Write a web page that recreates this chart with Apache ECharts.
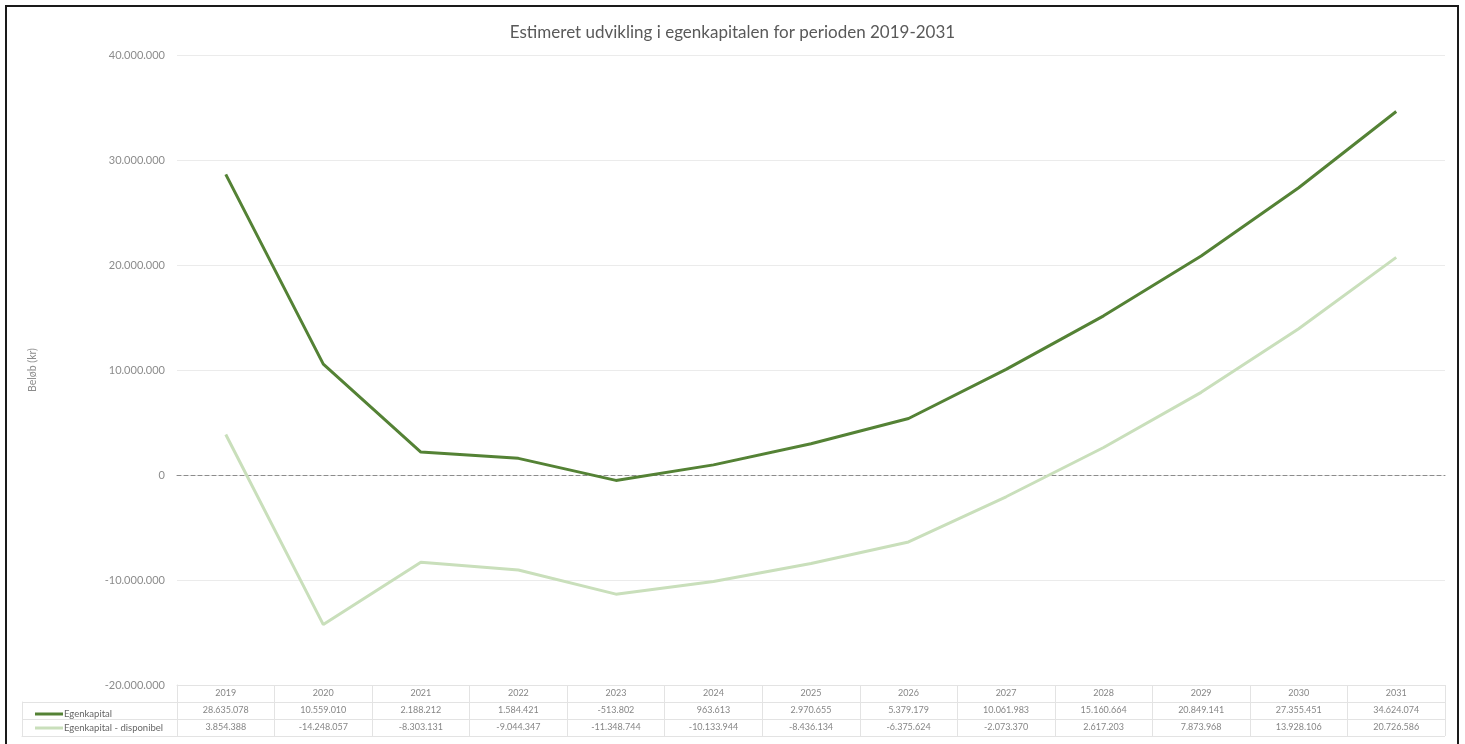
<!DOCTYPE html>
<html>
<head>
<meta charset="utf-8">
<script src="https://cdn.jsdelivr.net/npm/echarts@6/dist/echarts.min.js"></script>
<style>
html,body{margin:0;padding:0;background:#fff;}
#chart{width:1465px;height:744px;}
</style>
</head>
<body>
<div id="chart"></div>
<script>
var years = ['2019','2020','2021','2022','2023','2024','2025','2026','2027','2028','2029','2030','2031'];
var egenkapital = [28635078,10559010,2188212,1584421,-513802,963613,2970655,5379179,10061983,15160664,20849141,27355451,34624074];
var disponibel = [3854388,-14248057,-8303131,-9044347,-11348744,-10133944,-8436134,-6375624,-2073370,2617203,7873968,13928106,20726586];
var seriesNames = ['Egenkapital','Egenkapital - disponibel'];
var yTicks = {min:-20000000, max:40000000, interval:10000000};
var titleText = 'Estimeret udvikling i egenkapitalen for perioden 2019-2031';
var yName = 'Beløb (kr)';

function fmt(v){
  var neg = v < 0;
  var s = String(Math.abs(Math.round(v)));
  var out = '';
  while (s.length > 3){ out = '.' + s.slice(-3) + out; s = s.slice(0, s.length-3); }
  out = s + out;
  return (neg ? '-' : '') + out;
}

var FONT = 'Lato';
var darkGreen = '#548235';
var lightGreen = '#c9dfbb';
var txt = '#595959';
var tableLine = '#e3e3e3';

var chart = echarts.init(document.getElementById('chart'), null, {renderer:'canvas'});

function rowSeries(rowKey, vals, isHeader){
  return {
    type:'scatter', xAxisIndex:1, yAxisIndex:1, symbolSize:0, silent:true,
    data: years.map(function(y,i){ return {value:[y,rowKey], lbl: isHeader ? y : fmt(vals[i])}; }),
    label:{show:true, position:'inside', formatter:function(p){return p.data.lbl;}, color:'#666666', fontSize:9, fontFamily:FONT},
    tooltip:{show:false}
  };
}

var option = {
  animation:false,
  textStyle:{fontFamily:FONT},
  title:{
    text:titleText, left:'center', top:19,
    textStyle:{fontSize:17, fontWeight:'normal', color:txt, fontFamily:FONT}
  },
  legend:{
    data:seriesNames.map(function(n){return {name:n, icon:'rect'};}),
    orient:'vertical', left:30, top:704, itemGap:4, itemWidth:28, itemHeight:3,
    textStyle:{fontSize:9.5, color:'#666666', fontFamily:FONT, padding:[0,0,0,-4]}
  },
  grid:[
    {left:177, right:20, top:55, height:630},
    {left:177, right:20, top:685, height:51},
    {left:22, width:155, top:702, height:34}
  ],
  xAxis:[
    {type:'category', gridIndex:0, data:years, boundaryGap:true,
     axisLine:{show:true, onZero:true, lineStyle:{color:'#8c8c8c', type:[4,3], width:1}},
     axisTick:{show:false}, axisLabel:{show:false}, splitLine:{show:false}},
    {type:'category', gridIndex:1, data:years, boundaryGap:true, position:'top',
     axisLine:{show:true, lineStyle:{color:tableLine}}, axisTick:{show:false}, axisLabel:{show:false},
     splitLine:{show:true, lineStyle:{color:tableLine}}},
    {type:'category', gridIndex:2, data:[''], boundaryGap:true,
     axisLine:{show:true, lineStyle:{color:tableLine}}, axisTick:{show:false}, axisLabel:{show:false},
     splitLine:{show:true, lineStyle:{color:tableLine}}}
  ],
  yAxis:[
    {type:'value', gridIndex:0, min:yTicks.min, max:yTicks.max, interval:yTicks.interval,
     name:yName, nameLocation:'middle', nameRotate:90, nameGap:139,
     nameTextStyle:{fontSize:10.5, color:'#8c8c8c', fontFamily:FONT},
     axisLine:{show:false}, axisTick:{show:false},
     axisLabel:{formatter:function(v){return fmt(v);}, fontSize:11, color:'#8c8c8c', margin:12, fontFamily:FONT},
     splitLine:{show:true, lineStyle:{color:'#ebebeb'}}},
    {type:'category', gridIndex:1, data:['h','a','b'], inverse:true,
     axisLine:{show:true, lineStyle:{color:tableLine}}, axisTick:{show:false}, axisLabel:{show:false},
     splitLine:{show:true, lineStyle:{color:tableLine}}},
    {type:'category', gridIndex:2, data:['a','b'], inverse:true,
     axisLine:{show:true, lineStyle:{color:tableLine}}, axisTick:{show:false}, axisLabel:{show:false},
     splitLine:{show:true, lineStyle:{color:tableLine}}}
  ],
  series:[
    {name:seriesNames[0], type:'line', xAxisIndex:0, yAxisIndex:0, data:egenkapital, showSymbol:false,
     lineStyle:{color:darkGreen, width:3}, itemStyle:{color:darkGreen}, z:3},
    {name:seriesNames[1], type:'line', xAxisIndex:0, yAxisIndex:0, data:disponibel, showSymbol:false,
     lineStyle:{color:lightGreen, width:3}, itemStyle:{color:lightGreen}, z:2},
    rowSeries('h', null, true),
    rowSeries('a', egenkapital, false),
    rowSeries('b', disponibel, false)
  ],
  graphic:[
    {type:'rect', shape:{x:6, y:6, width:1452, height:744}, style:{fill:null, stroke:'#1a1a1a', lineWidth:2}, silent:true}
  ]
};
chart.setOption(option);
</script>
</body>
</html>
